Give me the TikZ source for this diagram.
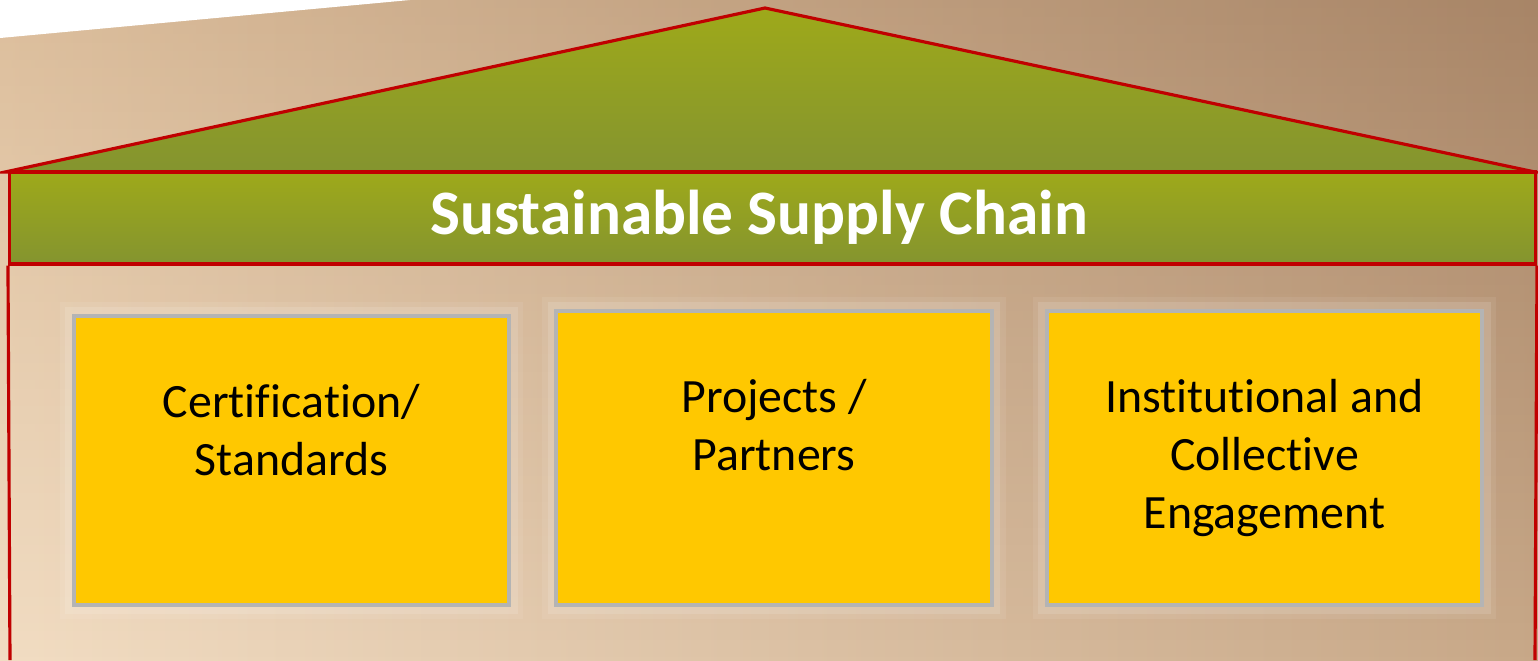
\documentclass[tikz,border=0pt]{standalone}
\usepackage{fontspec}
\setmainfont{Carlito}[Ligatures={NoCommon,NoRequired,NoContextual}, Contextuals=NoAlternate]
\usepackage{tikz}
\usetikzlibrary{positioning, fadings}

\definecolor{roofred}{HTML}{C00000}
\definecolor{leaftop}{HTML}{9EA91A}
\definecolor{leafbot}{HTML}{84942F}
\definecolor{gold}{HTML}{FFC800}
\definecolor{frame}{HTML}{B4B4B4}
\definecolor{sandL}{HTML}{F2DDC3}
\definecolor{sandM}{HTML}{D8BA97}
\definecolor{sandR}{HTML}{C8A888}
\definecolor{duskL}{HTML}{A97641}
\definecolor{duskR}{HTML}{5D331A}

\tikzfading[name=fade down, top color=transparent!70, bottom color=transparent!100]

% keeps t+i and f+i apart
\newcommand{\nl}{\kern0pt }

\begin{document}
\begin{tikzpicture}[x=0.01cm, y=-0.01cm,
                wall/.style={draw=roofred, line width=0.9pt},
                pillar/.style={rectangle, draw=frame, line width=1.2pt, fill=gold, minimum width=4.35cm, inner sep=0pt,
                               preaction={draw=white, line width=8pt, opacity=0.07},
                               preaction={draw=white, line width=5pt, opacity=0.12}},
                lbl/.style={font=\fontsize{13.6}{16.4}\selectfont, align=center, inner sep=0pt},
                title/.style={font=\fontsize{18}{22}\selectfont\bfseries, text=white, inner sep=0pt}
            ]
                % Backdrop
                \useasboundingbox (0,0) rectangle (1538,660);
                \shade[left color=sandL, middle color=sandM, right color=sandR] (0,0) rectangle (1538,660);
                \shade[left color=duskL, right color=duskR, path fading=fade down] (0,0) rectangle (1538,660);
                \fill[white] (0,0) -- (410,0) -- (0,38) -- cycle;

                % Roof
                \coordinate (apex) at (765,8);
                \coordinate (eaveL) at (5,172);
                \coordinate (eaveR) at (1535,172);
                \draw[wall, top color=leaftop, bottom color=leafbot] (eaveL) -- (apex) -- (eaveR) -- cycle;

                % Beam with the title
                \node[wall, rectangle, top color=leaftop, bottom color=leafbot, minimum width=15.25cm, minimum height=0.92cm, inner sep=0pt] (band) at (772.5,218) {};
                \node[title] (title) at (759,217) {Sustainable Supply Chain};

                % Walls
                \coordinate (footL) at (10,660);
                \coordinate (footR) at (1535,660);
                \draw[wall] (band.south west) -- (footL);
                \draw[wall] (band.south east) -- (footR);

                % Pillars
                \node[pillar, minimum height=2.89cm] (cert) at (291.5,460.5) {};
                \node[pillar, minimum height=2.94cm] (proj) at (774,458) {};
                \node[pillar, minimum height=2.94cm] (inst) at (1264.5,458) {};

                % Labels inside the pillars
                \node[lbl, below=0.70cm of cert.north] {Certif\nl ica\nl t\nl ion/\\Standards};
                \node[lbl, below=0.70cm of proj.north] {Projects /\\Partners};
                \node[lbl, below=0.70cm of inst.north] {Inst\nl itut\nl ional and\\Collect\nl ive\\Engagement};

            \end{tikzpicture}
\end{document}
